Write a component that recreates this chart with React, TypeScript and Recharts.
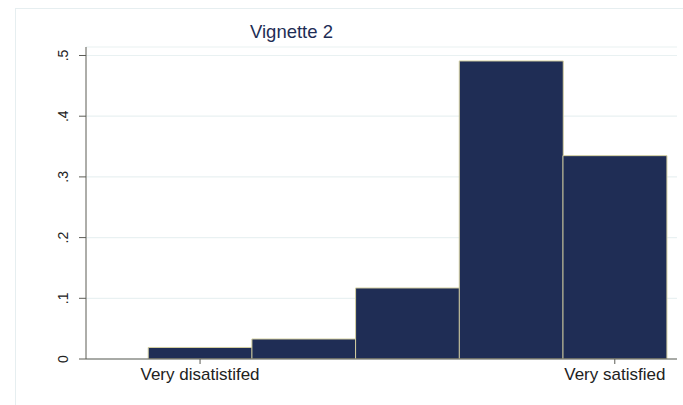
import { BarChart, Bar, XAxis, YAxis, CartesianGrid } from 'recharts'

const bins = [1, 2, 3, 4, 5]
const fractions = [0.019, 0.033, 0.117, 0.491, 0.335]
const yTicks = [0, 0.1, 0.2, 0.3, 0.4, 0.5]
const xTicks = [1, 5]
const xTickLabels: Record<number, string> = { 1: 'Very disatistifed', 5: 'Very satisfied' }

const data = bins.map((b, i) => ({ bin: b, fraction: fractions[i] }))

const FONT = '"Liberation Sans", Arial, Helvetica, sans-serif'

function fmtY(v: number) {
  return v === 0 ? '0' : String(v).replace(/^0/, '')
}

// stata-style rotated y labels
function YTick(props: any) {
  const { x, y, payload } = props
  const bx = x + 1
  return (
    <text
      x={bx}
      y={y}
      transform={`rotate(-90, ${bx}, ${y})`}
      textAnchor="middle"
      fill="#222"
      fontSize={14}
      fontFamily={FONT}
    >
      {fmtY(payload.value)}
    </text>
  )
}

export default function App() {
  return (
    <div style={{ position: 'fixed', left: 0, top: 0, width: 683, height: 405, background: '#fff' }}>
      <div
        style={{
          position: 'absolute',
          left: 15,
          top: 8,
          width: 700,
          height: 420,
          border: '1px solid #e6eef0',
        }}
      />
      <div
        style={{
          position: 'absolute',
          left: 0,
          width: 583,
          top: 21,
          textAlign: 'center',
          fontFamily: FONT,
          fontSize: 18.5,
          color: '#1e2d55',
          lineHeight: '22px',
        }}
      >
        Vignette 2
      </div>
      <div style={{ position: 'absolute', left: 0, top: 0 }}>
        <BarChart
          width={683}
          height={405}
          data={data}
          barCategoryGap="0%"
          barGap={0}
          margin={{ top: 47, right: 6, bottom: 16, left: 46 }}
        >
          <CartesianGrid vertical={false} stroke="#e9f1f2" strokeWidth={1.2} />
          <XAxis
            type="number"
            dataKey="bin"
            domain={[-0.1, 5.6]}
            ticks={xTicks}
            tickFormatter={(v: number) => xTickLabels[v] ?? ''}
            allowDataOverflow
            height={30}
            tickSize={5}
            tickMargin={4}
            stroke="#5c5c55"
            tick={{ fill: '#222', fontSize: 17, fontFamily: FONT }}
          />
          <YAxis
            type="number"
            domain={[0, 0.514]}
            ticks={yTicks}
            allowDataOverflow
            width={40}
            tickSize={7}
            tickMargin={12}
            stroke="#5c5c55"
            tick={<YTick />}
          />
          <Bar
            dataKey="fraction"
            fill="#1f2d55"
            stroke="#d6d1a2"
            strokeWidth={1}
            maxBarSize={200}
            isAnimationActive={false}
          />
        </BarChart>
      </div>
    </div>
  )
}
